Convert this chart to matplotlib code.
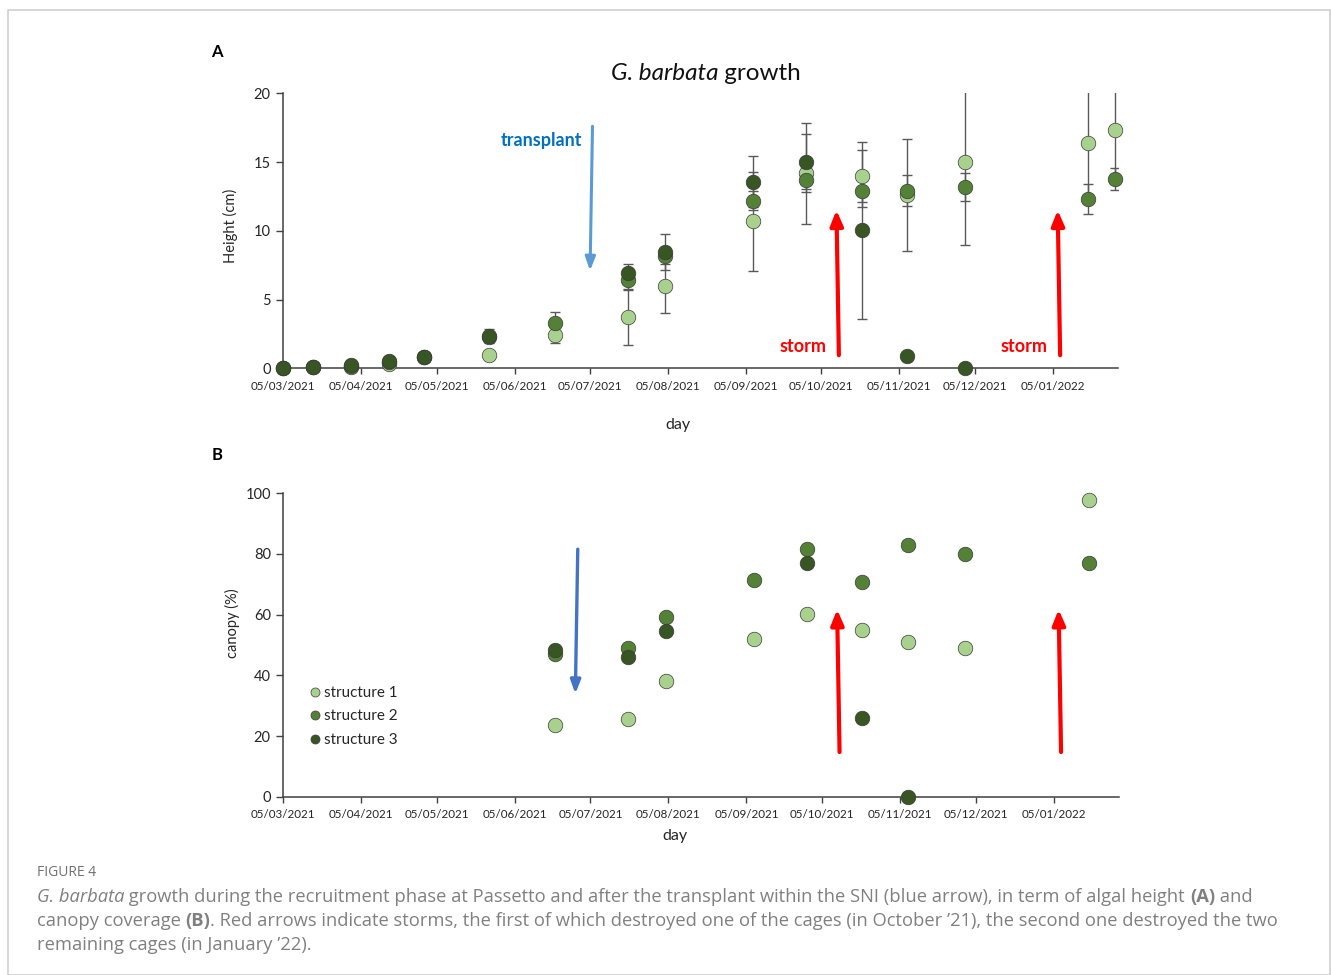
import numpy as np
import matplotlib
matplotlib.use("Agg")
import matplotlib.pyplot as plt
import matplotlib.dates as mdates
from matplotlib.patches import Rectangle

plt.rcParams['font.family'] = ['Lato', 'DejaVu Sans']

# ---- data: panel A, height (cm) ----
dates_a = np.array(['2021-03-05', '2021-03-17', '2021-04-01', '2021-04-16', '2021-04-30',
                    '2021-05-26', '2021-06-21', '2021-07-20', '2021-08-04', '2021-09-08',
                    '2021-09-29', '2021-10-21', '2021-11-08', '2021-12-01', '2022-01-19',
                    '2022-01-30'], dtype='datetime64[D]')
height_s1 = [0.05, 0.1, 0.1, 0.3, 0.85, 0.97, 2.42, 3.73, 6.0, 10.71, 14.18, 14.0, 12.6, 15.03, 16.38, 17.33]
height_s2 = [0.05, 0.1, 0.2, 0.45, 0.85, 2.3, 3.27, 6.4, 8.19, 12.2, 13.7, 12.92, 12.92, 13.2, 12.31, 13.77]
height_s3 = [0.05, 0.1, 0.25, 0.55, 0.85, 2.35, np.nan, 6.95, 8.48, 13.57, 15.03, 10.03, 0.87, 0.0, np.nan, np.nan]
err_s1 = [0, 0, 0, 0.05, 0.05, 0.1, 0.6, 2.0, 2.0, 3.6, 3.65, 1.9, 4.1, 6.06, 4.0, 3.5]
err_s2 = [0, 0, 0, 0.05, 0.05, 0.3, 0.85, 0.6, 0.6, 0.7, 0.9, 1.17, 1.14, 1.0, 1.1, 0.8]
err_s3 = [0, 0, 0, 0.05, 0.05, 0.5, np.nan, 0.65, 1.3, 1.87, 2.0, 6.45, 0, 0, np.nan, np.nan]

# ---- data: panel B, canopy (%) ----
dates_b = np.array(['2021-06-21', '2021-07-20', '2021-08-04', '2021-09-08', '2021-09-29',
                    '2021-10-21', '2021-11-08', '2021-12-01', '2022-01-19'], dtype='datetime64[D]')
canopy_s1 = [23.6, 25.5, 38.1, 51.9, 60.3, 54.9, 51.1, 49.1, 97.8]
canopy_s2 = [47.0, 49.1, 59.3, 71.4, 81.7, 70.6, 83.0, 79.9, 77.0]
canopy_s3 = [48.4, 46.0, 54.6, np.nan, 77.0, 25.9, 0.0, np.nan, np.nan]

labels = ['structure 1', 'structure 2', 'structure 3']
colors = ['#A9D18E', '#538135', '#375623']

# events
transplant_a = np.datetime64('2021-07-05')
transplant_b = np.datetime64('2021-06-29')
storms = np.array(['2021-10-11', '2022-01-07'], dtype='datetime64[D]')

W, H = 1331, 975
fig = plt.figure(figsize=(W / 100, H / 100), dpi=100)
renderer = fig.canvas.get_renderer()

# outer frame
fig.patches.append(Rectangle((7.5 / W, 0), (1330 - 7.5) / W, 1 - 10 / H,
                             transform=fig.transFigure, fill=False,
                             edgecolor='#cfcfcf', lw=1.2))


def fx(px):
    return px / W


def fy(py):
    return 1 - py / H


ax_a = fig.add_axes([fx(283.3), fy(368.3), (1118 - 283.3) / W, (368.3 - 93.3) / H])
ax_b = fig.add_axes([fx(283.3), fy(796.7), (1119 - 283.3) / W, (796.7 - 493.3) / H])

xmin = np.datetime64('2021-03-05')
xmax = np.datetime64('2022-01-31')


def style_axis(ax):
    for s in ['top', 'right']:
        ax.spines[s].set_visible(False)
    for s in ['left', 'bottom']:
        ax.spines[s].set_color('#404040')
        ax.spines[s].set_linewidth(1.1)
    ax.set_xlim(xmin, xmax)
    ax.xaxis.set_major_locator(mdates.MonthLocator(bymonthday=5))
    ax.xaxis.set_major_formatter(mdates.DateFormatter('%d/%m/%Y'))
    ax.tick_params(axis='x', length=4, width=1, color='#404040', labelsize=8.4,
                   labelcolor='#262626', pad=5)
    ax.tick_params(axis='y', length=5, width=1, color='#404040', labelsize=10.5,
                   labelcolor='#262626', pad=4)


# panel A
for vals, errs, c in zip([height_s1, height_s2, height_s3], [err_s1, err_s2, err_s3], colors):
    ax_a.errorbar(dates_a, vals, yerr=errs, fmt='none', ecolor='#595959', elinewidth=1,
                  capsize=3.5, capthick=1, zorder=2)
for vals, c, lab in zip([height_s1, height_s2, height_s3], colors, labels):
    ax_a.plot(dates_a, vals, 'o', ms=10.5, mfc=c, mec='#3a3a3a', mew=0.5, ls='none',
              zorder=3, clip_on=False, label=lab)
style_axis(ax_a)
ax_a.set_ylim(0, 20)
ax_a.set_yticks([0, 5, 10, 15, 20])

ax_a.annotate('', xy=(transplant_a, 6.9), xytext=(transplant_a + np.timedelta64(1, 'D'), 17.8),
              arrowprops=dict(arrowstyle='-|>,head_width=0.3,head_length=0.8', color='#5B9BD5', lw=2.2))
ax_a.text(transplant_a - np.timedelta64(3, 'D'), 16.6, 'transplant', color='#0070C0',
          fontsize=13, fontweight='bold', ha='right', va='center')
for d in storms:
    ax_a.annotate('', xy=(d, 11.7), xytext=(d + np.timedelta64(1, 'D'), 0.75),
                  arrowprops=dict(arrowstyle='-|>,head_width=0.38,head_length=0.9', color='#FF0000', lw=3))
    ax_a.text(d - np.timedelta64(4, 'D'), 1.6, 'storm', color='#FF0000',
              fontsize=13, fontweight='bold', ha='right', va='center')

# panel B
for vals, c, lab in zip([canopy_s1, canopy_s2, canopy_s3], colors, labels):
    ax_b.plot(dates_b, vals, 'o', ms=10.5, mfc=c, mec='#3a3a3a', mew=0.5, ls='none',
              zorder=3, clip_on=False, label=lab)
style_axis(ax_b)
ax_b.set_ylim(0, 100)
ax_b.set_yticks([0, 20, 40, 60, 80, 100])

ax_b.annotate('', xy=(transplant_b, 33.0), xytext=(transplant_b + np.timedelta64(1, 'D'), 82.5),
              arrowprops=dict(arrowstyle='-|>,head_width=0.3,head_length=0.8', color='#4472C4', lw=2.4))
for d in storms:
    ax_b.annotate('', xy=(d, 62.6), xytext=(d + np.timedelta64(1, 'D'), 13.8),
                  arrowprops=dict(arrowstyle='-|>,head_width=0.38,head_length=0.9', color='#FF0000', lw=3))

leg = ax_b.legend(loc='upper left', bbox_to_anchor=(0.02, 0.385), frameon=False,
                  fontsize=11, markerscale=0.62, handletextpad=0.05, labelspacing=0.62,
                  handlelength=1.15, borderaxespad=0)
for t in leg.get_texts():
    t.set_color('#262626')


def text_run(pieces, x_px, y_px, size, family, color, center=False):
    """place styled pieces one after another on a baseline row"""
    made = []
    x = fx(x_px)
    for txt, style, weight in pieces:
        t = fig.text(x, fy(y_px), txt, fontsize=size, family=family, color=color,
                     style=style, fontweight=weight, ha='left', va='center')
        bb = t.get_window_extent(renderer)
        x = bb.x1 / W
        made.append(t)
    if center:
        total = x - fx(x_px)
        for t in made:
            px, py = t.get_position()
            t.set_position((px - total / 2, py))
    return made


# titles and labels
text_run([('G. barbata', 'italic', 'normal'), (' growth', 'normal', 'normal')],
         706, 73, 17.5, ['Lato', 'DejaVu Sans'], '#111111', center=True)
fig.text(fx(217), fy(52), 'A', fontsize=12, fontweight='bold', ha='center', va='center')
fig.text(fx(217), fy(455), 'B', fontsize=12, fontweight='bold', ha='center', va='center')
fig.text(fx(230), fy(226), 'Height (cm)', rotation=90, fontsize=10.5, ha='center', va='center',
         color='#262626')
fig.text(fx(232), fy(623), 'canopy (%)', rotation=90, fontsize=10.5, ha='center', va='center',
         color='#262626')
fig.text(fx(678), fy(425), 'day', fontsize=11.5, ha='center', va='center', color='#262626')
fig.text(fx(675), fy(836), 'day', fontsize=11.5, ha='center', va='center', color='#262626')

# caption
cap_font = ['Open Sans', 'DejaVu Sans']
cap_color = '#808080'
fig.text(fx(37), fy(873), 'FIGURE 4', fontsize=10, family=cap_font, color='#707070',
         ha='left', va='center')

text_run([('G. barbata', 'italic', 'normal'),
          (' growth during the recruitment phase at Passetto and after the transplant within the SNI (blue arrow), in term of algal height ', 'normal', 'normal'),
          ('(A)', 'normal', 'bold'),
          (' and', 'normal', 'normal')], 37, 897, 13.25, cap_font, cap_color)
text_run([('canopy coverage ', 'normal', 'normal'),
          ('(B)', 'normal', 'bold'),
          ('. Red arrows indicate storms, the first of which destroyed one of the cages (in October \u201921), the second one destroyed the two', 'normal', 'normal')],
         37, 921, 13.25, cap_font, cap_color)
text_run([('remaining cages (in January \u201922).', 'normal', 'normal')], 37, 945, 13.25, cap_font, cap_color)

fig.savefig('out.png', dpi=100)
